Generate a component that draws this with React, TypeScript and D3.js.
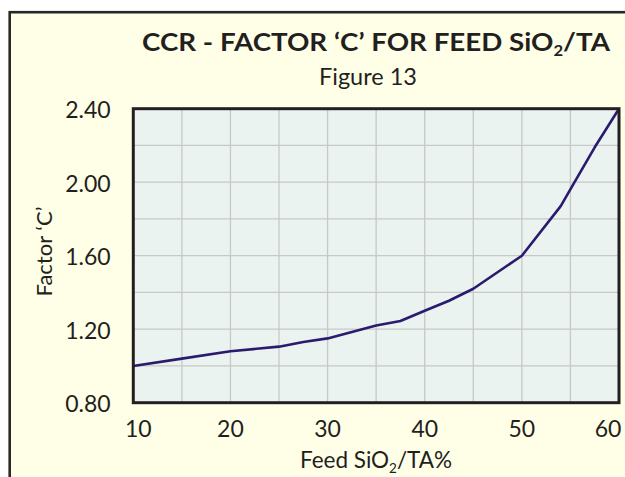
import React from "react";
import * as d3 from "d3";

const feedSiO2 = [10, 15, 20, 25, 27.5, 30, 32.5, 35, 37.5, 40, 42.5, 45, 50, 54, 55.2, 57.5, 60];
const factorC = [1.0, 1.04, 1.08, 1.105, 1.13, 1.15, 1.185, 1.22, 1.245, 1.3, 1.355, 1.42, 1.6, 1.87, 1.98, 2.19, 2.4];
const xTicks = [10, 20, 30, 40, 50, 60];
const yTicks = [0.8, 1.2, 1.6, 2.0, 2.4];
const xGrid = [15, 20, 25, 30, 35, 40, 45, 50, 55];
const yGrid = [1.0, 1.2, 1.4, 1.6, 1.8, 2.0, 2.2];

const W = 625;
const H = 477;
const FONT = "Lato, 'Open Sans', sans-serif";
const TEXT = "#231f20";

export default function App() {
  const x = d3.scaleLinear().domain([10, 60]).range([133.3, 619]);
  const y = d3.scaleLinear().domain([0.8, 2.4]).range([402.7, 108.7]);
  const pts = feedSiO2.map((v, i) => [v, factorC[i]] as [number, number]);
  const line = d3
    .line<[number, number]>()
    .x((d) => x(d[0]))
    .y((d) => y(d[1]))
    .curve(d3.curveLinear)(pts);

  const fmt = d3.format(".2f");

  return (
    <svg
      width={W}
      height={H}
      style={{ position: "absolute", left: 0, top: 0, display: "block" }}
    >
      <rect x={0} y={0} width={W} height={H} fill="#ffffff" />
      <rect
        x={9.7}
        y={12.2}
        width={700}
        height={600}
        fill="#ffffe8"
        stroke="#2a2826"
        strokeWidth={2.6}
      />
      {/* Title */}
      <text
        x={142}
        y={51}
        fontFamily={FONT}
        fontWeight={700}
        fontSize={25}
        fill={TEXT}
        textLength={468}
        lengthAdjust="spacingAndGlyphs"
      >
        CCR - FACTOR ‘C’ FOR FEED SiO
        <tspan fontSize={15} dy={5}>2</tspan>
        <tspan dy={-5}>/TA</tspan>
      </text>
      <text
        x={368}
        y={85}
        textAnchor="middle"
        fontFamily={FONT}
        fontSize={23.5}
        fill={TEXT}
      >
        Figure 13
      </text>

      {/* Plot background */}
      <rect
        x={x(10)}
        y={y(2.4)}
        width={x(60) - x(10)}
        height={y(0.8) - y(2.4)}
        fill="#eaf3ef"
      />
      {xGrid.map((v) => (
        <line
          key={"gx" + v}
          x1={x(v)}
          x2={x(v)}
          y1={y(0.8)}
          y2={y(2.4)}
          stroke="#c8c8c6"
          strokeWidth={1.3}
        />
      ))}
      {yGrid.map((v) => (
        <line
          key={"gy" + v}
          x1={x(10)}
          x2={x(60)}
          y1={y(v)}
          y2={y(v)}
          stroke="#c8c8c6"
          strokeWidth={1.3}
        />
      ))}
      <path d={line ?? ""} fill="none" stroke="#2b1b6e" strokeWidth={2.6} strokeLinejoin="round" />
      <rect
        x={x(10)}
        y={y(2.4)}
        width={x(60) - x(10)}
        height={y(0.8) - y(2.4)}
        fill="none"
        stroke="#231f20"
        strokeWidth={3}
      />

      {/* Y tick labels */}
      {yTicks.map((v) => (
        <text
          key={"yt" + v}
          x={110.7}
          y={y(v) + 9.5}
          textAnchor="end"
          fontFamily={FONT}
          fontSize={23}
          fill={TEXT}
        >
          {fmt(v)}
        </text>
      ))}
      {/* X tick labels */}
      {xTicks.map((v, i) => (
        <text
          key={"xt" + v}
          x={x(v) + (i === 0 ? 5 : i === xTicks.length - 1 ? -11 : 0)}
          y={436.7}
          textAnchor="middle"
          fontFamily={FONT}
          fontSize={23}
          fill={TEXT}
        >
          {v}
        </text>
      ))}

      {/* Axis titles */}
      <text
        x={376}
        y={468}
        textAnchor="middle"
        fontFamily={FONT}
        fontSize={22.5}
        fill={TEXT}
      >
        Feed SiO
        <tspan fontSize={13.5} dy={4.5}>2</tspan>
        <tspan dy={-4.5}>/TA%</tspan>
      </text>
      <text
        transform={`translate(52, ${251.5}) rotate(-90)`}
        textAnchor="middle"
        fontFamily={FONT}
        fontSize={22}
        fill={TEXT}
      >
        Factor ‘C’
      </text>
    </svg>
  );
}
